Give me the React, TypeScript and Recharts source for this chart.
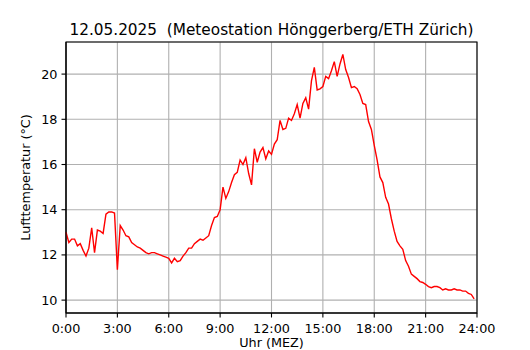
import React from 'react';
import { LineChart, Line, XAxis, YAxis, CartesianGrid, ReferenceArea } from 'recharts';

// 10-minute readings, 0:00 .. 23:50
const temps = [
  13.0, 12.55, 12.7, 12.7, 12.4, 12.5, 12.2, 11.95, 12.3, 13.2, 12.1, 13.1,
  13.05, 12.95, 13.8, 13.9, 13.9, 13.85, 11.35, 13.3, 13.1, 12.85, 12.8, 12.55,
  12.45, 12.35, 12.3, 12.2, 12.1, 12.05, 12.1, 12.1, 12.05, 12.0, 11.95, 11.9,
  11.85, 11.65, 11.85, 11.7, 11.75, 11.95, 12.1, 12.3, 12.3, 12.5, 12.6, 12.7,
  12.65, 12.75, 12.85, 13.3, 13.65, 13.7, 14.0, 15.0, 14.5, 14.8, 15.2, 15.55,
  15.65, 16.2, 16.0, 16.3, 15.6, 15.1, 16.7, 16.1, 16.55, 16.75, 16.25, 16.6,
  16.45, 16.9, 17.1, 17.95, 17.55, 17.6, 18.05, 17.95, 18.25, 18.65, 18.05, 18.7,
  18.95, 18.45, 19.7, 20.3, 19.3, 19.35, 19.45, 19.9, 19.8, 20.15, 20.55, 19.9,
  20.45, 20.87, 20.2, 19.85, 19.4, 19.45, 19.35, 19.1, 18.7, 18.65, 17.9, 17.55,
  16.85, 16.2, 15.45, 15.2, 14.55, 14.25, 13.6, 13.05, 12.6, 12.4, 12.25, 11.75,
  11.5, 11.15, 11.05, 10.95, 10.82, 10.78, 10.7, 10.6, 10.55, 10.6, 10.6, 10.55,
  10.45, 10.5, 10.45, 10.45, 10.5, 10.45, 10.45, 10.4, 10.4, 10.3, 10.25, 10.05,
];

const xTicks = [0, 3, 6, 9, 12, 15, 18, 21, 24];
const yTicks = [10, 12, 14, 16, 18, 20];

const data = temps.map((t, i) => ({ hour: i / 6, temp: t }));

const FONT = '"DejaVu Sans", sans-serif';
const tickStyle = { fill: '#000', fontSize: 12.8, fontFamily: FONT };

const App: React.FC = () => {
  return (
    <div style={{ position: 'absolute', left: 0, top: 0, width: 530, height: 350, background: '#fff' }}>
      <LineChart
        width={530}
        height={350}
        data={data}
        margin={{ top: 42, right: 53, left: 0, bottom: 0 }}
      >
        <CartesianGrid stroke="#b0b0b0" strokeWidth={1.1} />
        <XAxis
          dataKey="hour"
          type="number"
          domain={[0, 24]}
          ticks={xTicks}
          tickFormatter={(h: number) => `${h}:00`}
          height={37}
          tickSize={4.5}
          tickMargin={6}
          tick={tickStyle}
          axisLine={{ stroke: '#000', strokeWidth: 1.1 }}
          tickLine={{ stroke: '#000', strokeWidth: 1.1 }}
          interval={0}
        />
        <YAxis
          type="number"
          domain={[9.43, 21.42]}
          ticks={yTicks}
          allowDataOverflow
          width={66}
          tickSize={4.5}
          tickMargin={4}
          tick={tickStyle}
          axisLine={{ stroke: '#000', strokeWidth: 1.1 }}
          tickLine={{ stroke: '#000', strokeWidth: 1.1 }}
          interval={0}
        />
        <ReferenceArea
          x1={0}
          x2={24}
          y1={9.43}
          y2={21.42}
          fill="none"
          stroke="#000"
          strokeWidth={1.1}
          ifOverflow="extendDomain"
        />
        <Line
          type="linear"
          dataKey="temp"
          stroke="#ff0000"
          strokeWidth={1.4}
          dot={false}
          isAnimationActive={false}
        />
      </LineChart>
      <svg
        width={530}
        height={350}
        style={{ position: 'absolute', left: 0, top: 0, pointerEvents: 'none' }}
      >
        <text
          x={271.5}
          y={35}
          textAnchor="middle"
          fontFamily={FONT}
          fontSize={15.3}
          fill="#000"
          style={{ whiteSpace: 'pre' }}
        >
          {'12.05.2025  (Meteostation Hönggerberg/ETH Zürich)'}
        </text>
        <text x={271.5} y={347} textAnchor="middle" fontFamily={FONT} fontSize={12.8} fill="#000">
          Uhr (MEZ)
        </text>
        <text
          x={30}
          y={177.5}
          textAnchor="middle"
          fontFamily={FONT}
          fontSize={12.8}
          fill="#000"
          transform="rotate(-90 30 177.5)"
        >
          Lufttemperatur (°C)
        </text>
      </svg>
    </div>
  );
};

export default App;
